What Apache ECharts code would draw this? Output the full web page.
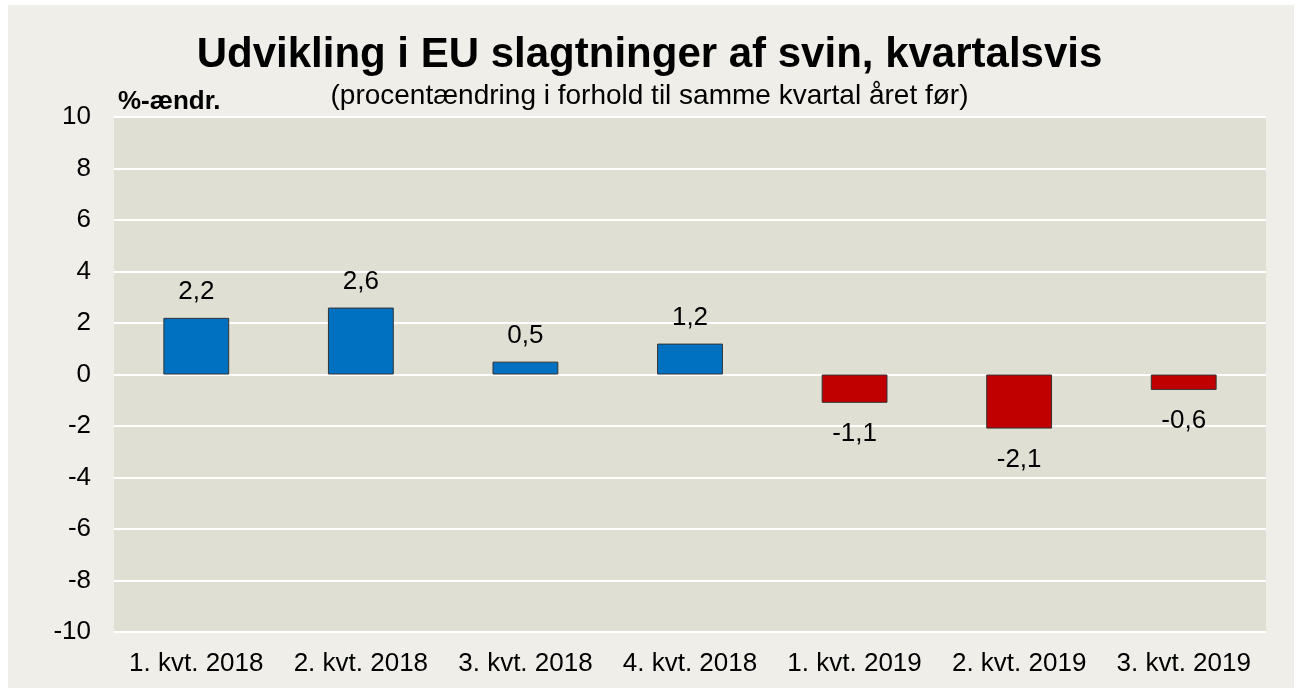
<!DOCTYPE html>
<html>
<head>
<meta charset="utf-8">
<script src="https://cdn.jsdelivr.net/npm/echarts@6/dist/echarts.min.js"></script>
<style>
  html, body { margin: 0; padding: 0; background: #ffffff; }
  #chart { width: 1299px; height: 688px; }
</style>
</head>
<body>
<div id="chart"></div>
<script>
const categories = ['1. kvt. 2018', '2. kvt. 2018', '3. kvt. 2018', '4. kvt. 2018', '1. kvt. 2019', '2. kvt. 2019', '3. kvt. 2019']
const values = [2.2, 2.6, 0.5, 1.2, -1.1, -2.1, -0.6]

const font = 'Liberation Sans, Arial, sans-serif'

const chart = echarts.init(document.getElementById('chart'))

const option = {
  backgroundColor: '#ffffff',
  animation: false,
  // panel behind the chart
  graphic: [
    {
      type: 'rect',
      z: -10,
      silent: true,
      shape: { x: 8, y: 5, width: 1286, height: 690 },
      style: { fill: '#efeee8' }
    },
    {
      type: 'text',
      left: 118,
      top: 89,
      style: { text: '%-ændr.', font: 'bold 26px ' + font, fill: '#000' }
    }
  ],
  title: [
    {
      text: 'Udvikling i EU slagtninger af svin, kvartalsvis',
      left: 'center',
      top: 29,
      textStyle: { fontFamily: font, fontSize: 42, fontWeight: 'bold', color: '#000' }
    },
    {
      text: '(procentændring i forhold til samme kvartal året før)',
      left: 'center',
      top: 77,
      textStyle: { fontFamily: font, fontSize: 28, fontWeight: 'normal', color: '#000' }
    }
  ],
  grid: {
    left: 114,
    right: 33,
    top: 117,
    bottom: 56,
    show: true,
    backgroundColor: '#e0dfd4',
    borderWidth: 0
  },
  xAxis: {
    type: 'category',
    data: categories,
    axisLine: { show: false },
    axisTick: { show: false },
    axisLabel: { fontFamily: font, fontSize: 26, color: '#000', margin: 19, interval: 0 }
  },
  yAxis: {
    type: 'value',
    min: -10,
    max: 10,
    interval: 2,
    axisLine: { show: false },
    axisTick: { show: false },
    splitLine: { lineStyle: { color: '#ffffff', width: 2 } },
    axisLabel: { fontFamily: font, fontSize: 26, color: '#000', margin: 23 }
  },
  series: [
    {
      type: 'bar',
      barWidth: '40%',
      data: values.map(v => ({
        value: v,
        itemStyle: { color: v >= 0 ? '#0070c0' : '#c00000' },
        label: { position: v >= 0 ? 'top' : 'bottom', distance: v >= 0 ? 13 : 18 }
      })),
      itemStyle: { borderColor: '#333333', borderWidth: 1 },
      label: {
        show: true,
        fontFamily: font,
        fontSize: 26,
        color: '#000',
        formatter: p => String(p.value).replace('.', ',')
      }
    }
  ]
}

chart.setOption(option)
</script>
</body>
</html>
